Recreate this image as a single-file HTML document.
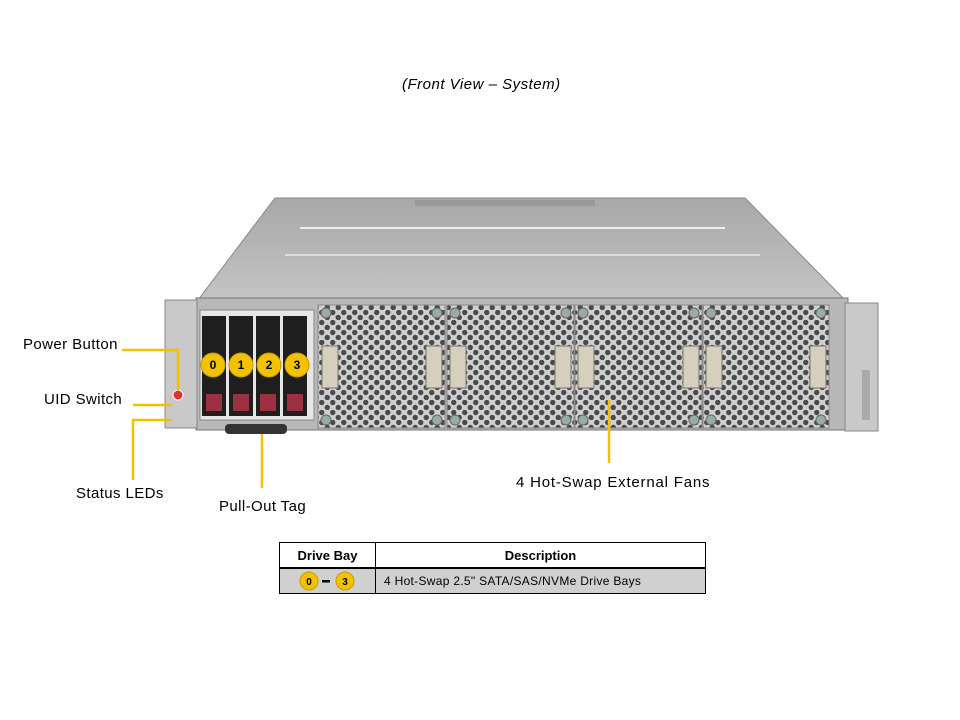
<!DOCTYPE html>
<html><head><style>
body{margin:0;width:960px;height:720px;background:#fff;position:relative;font-family:"Liberation Sans",sans-serif;overflow:hidden}
.t{position:absolute;font-size:15px;color:#000;white-space:nowrap;letter-spacing:0.4px}
table{position:absolute;left:279px;top:542px;border-collapse:collapse;font-size:13px}
td{border:1px solid #000;height:24px;padding:0}
</style></head><body>
<div class="t" style="left:402px;top:76px;font-style:italic;font-size:15px;letter-spacing:0.5px">(Front View – System)</div>
<svg width="960" height="720" style="position:absolute;left:0;top:0">
<defs>
<pattern id="hex" width="11" height="10" patternUnits="userSpaceOnUse">
<rect width="11" height="10" fill="#cfcfcf"/>
<circle cx="2.75" cy="2.5" r="2.7" fill="#4a4a4a"/><circle cx="8.25" cy="7.5" r="2.7" fill="#4a4a4a"/>
</pattern>
<linearGradient id="top" x1="0" y1="0" x2="0" y2="1"><stop offset="0" stop-color="#a8a8a8"/><stop offset="1" stop-color="#c4c4c4"/></linearGradient>
</defs>
<polygon points="275,198 745,198 845,300 198,300" fill="url(#top)" stroke="#888"/>
<line x1="300" y1="228" x2="725" y2="228" stroke="#eee" stroke-width="2"/>
<line x1="285" y1="255" x2="760" y2="255" stroke="#ddd" stroke-width="2"/>
<rect x="415" y="200" width="180" height="6" fill="#999"/>
<rect x="196" y="298" width="652" height="132" fill="#b8b8b8" stroke="#777"/>
<rect x="165" y="300" width="32" height="128" fill="#c9c9c9" stroke="#888"/>
<rect x="845" y="303" width="33" height="128" fill="#c9c9c9" stroke="#888"/>
<rect x="200" y="310" width="114" height="110" fill="#e6e6e6" stroke="#888"/>
<g fill="#1e1e1e">
<rect x="202" y="316" width="24" height="100"/><rect x="229" y="316" width="24" height="100"/>
<rect x="256" y="316" width="24" height="100"/><rect x="283" y="316" width="24" height="100"/></g>
<g fill="#9a3040">
<rect x="206" y="394" width="16" height="17"/><rect x="233" y="394" width="16" height="17"/>
<rect x="260" y="394" width="16" height="17"/><rect x="287" y="394" width="16" height="17"/></g>
<rect x="225" y="424" width="62" height="10" rx="4" fill="#333"/>
<g stroke="#888">
<rect x="318" y="305" width="127" height="123" fill="url(#hex)"/>
<rect x="447" y="305" width="127" height="123" fill="url(#hex)"/>
<rect x="575" y="305" width="127" height="123" fill="url(#hex)"/>
<rect x="703" y="305" width="126" height="123" fill="url(#hex)"/></g>
<g fill="#9aa" stroke="#666">
<circle cx="326" cy="313" r="5"/><circle cx="437" cy="313" r="5"/><circle cx="326" cy="420" r="5"/><circle cx="437" cy="420" r="5"/>
<circle cx="455" cy="313" r="5"/><circle cx="566" cy="313" r="5"/><circle cx="455" cy="420" r="5"/><circle cx="566" cy="420" r="5"/>
<circle cx="583" cy="313" r="5"/><circle cx="694" cy="313" r="5"/><circle cx="583" cy="420" r="5"/><circle cx="694" cy="420" r="5"/>
<circle cx="711" cy="313" r="5"/><circle cx="821" cy="313" r="5"/><circle cx="711" cy="420" r="5"/><circle cx="821" cy="420" r="5"/></g>
<g fill="#d6cfbf" stroke="#776">
<rect x="322" y="346" width="16" height="42"/><rect x="426" y="346" width="16" height="42"/>
<rect x="450" y="346" width="16" height="42"/><rect x="555" y="346" width="16" height="42"/>
<rect x="578" y="346" width="16" height="42"/><rect x="683" y="346" width="16" height="42"/>
<rect x="706" y="346" width="16" height="42"/><rect x="810" y="346" width="16" height="42"/></g>
<circle cx="178" cy="395" r="5" fill="#d33" stroke="#fff"/>
<rect x="862" y="370" width="8" height="50" fill="#aaa"/>
<g stroke="#F2C200" stroke-width="2.5" fill="none">
<polyline points="122,350 178,350 178,390"/>
<line x1="133" y1="405" x2="172" y2="405"/>
<polyline points="133,480 133,420 172,420"/>
<line x1="262" y1="434" x2="262" y2="488"/>
<line x1="609" y1="400" x2="609" y2="463"/>
</g>
<g font-family="Liberation Sans" font-size="12" font-weight="bold" text-anchor="middle">
<circle cx="213" cy="365" r="12" fill="#F2C200" stroke="#c99a00"/><text x="213" y="369">0</text>
<circle cx="241" cy="365" r="12" fill="#F2C200" stroke="#c99a00"/><text x="241" y="369">1</text>
<circle cx="269" cy="365" r="12" fill="#F2C200" stroke="#c99a00"/><text x="269" y="369">2</text>
<circle cx="297" cy="365" r="12" fill="#F2C200" stroke="#c99a00"/><text x="297" y="369">3</text>
</g>
</svg>
<div class="t" style="left:23px;top:336px">Power Button</div>
<div class="t" style="left:44px;top:391px">UID Switch</div>
<div class="t" style="left:76px;top:485px">Status LEDs</div>
<div class="t" style="left:219px;top:498px">Pull-Out Tag</div>
<div class="t" style="left:516px;top:474px;letter-spacing:0.8px">4 Hot-Swap External Fans</div>
<table>
<tr><td style="width:95px;text-align:center;font-weight:bold;border-bottom:2px solid #000">Drive Bay</td><td style="width:329px;text-align:center;font-weight:bold;border-bottom:2px solid #000">Description</td></tr>
<tr style="background:#d0d0d0"><td style="text-align:center"><svg width="60" height="22" style="vertical-align:middle"><g font-family="Liberation Sans" font-size="10" font-weight="bold" text-anchor="middle"><circle cx="11" cy="11" r="9" fill="#F2C200" stroke="#c99a00"/><text x="11" y="15">0</text><rect x="24" y="10" width="8" height="2.5" fill="#000"/><circle cx="47" cy="11" r="9" fill="#F2C200" stroke="#c99a00"/><text x="47" y="15">3</text></g></svg></td><td style="padding-left:8px;font-size:12px;letter-spacing:0.3px">4 Hot-Swap 2.5" SATA/SAS/NVMe Drive Bays</td></tr>
</table>
</body></html>
